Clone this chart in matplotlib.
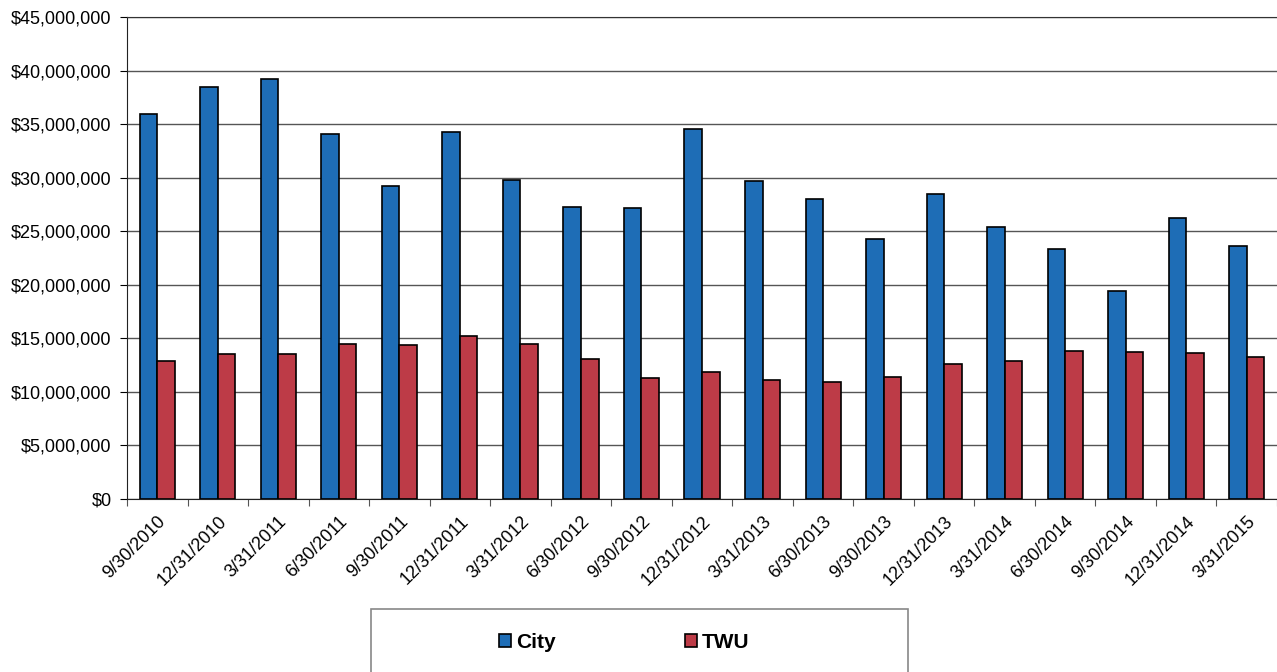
import numpy as np
import matplotlib.pyplot as plt
from matplotlib.ticker import FuncFormatter, FixedLocator
from matplotlib.patches import Rectangle

# dates du trimestre
quarters = ["9/30/2010", "12/31/2010", "3/31/2011", "6/30/2011", "9/30/2011",
            "12/31/2011", "3/31/2012", "6/30/2012", "9/30/2012", "12/31/2012",
            "3/31/2013", "6/30/2013", "9/30/2013", "12/31/2013", "3/31/2014",
            "6/30/2014", "9/30/2014", "12/31/2014", "3/31/2015"]

city = [35.9e6, 38.5e6, 39.2e6, 34.1e6, 29.2e6, 34.3e6, 29.8e6, 27.3e6, 27.2e6,
        34.5e6, 29.7e6, 28.0e6, 24.3e6, 28.5e6, 25.4e6, 23.3e6, 19.4e6, 26.2e6,
        23.6e6]
twu = [12.9e6, 13.5e6, 13.5e6, 14.5e6, 14.4e6, 15.2e6, 14.5e6, 13.1e6, 11.3e6,
       11.9e6, 11.1e6, 10.9e6, 11.4e6, 12.6e6, 12.9e6, 13.8e6, 13.7e6, 13.6e6,
       13.3e6]

plt.rcParams['font.family'] = ['Liberation Sans', 'DejaVu Sans']

fig = plt.figure(figsize=(12.77, 6.72), dpi=100)
ax = fig.add_axes([127 / 1277, 1 - 499 / 672, 1150 / 1277, 482 / 672])

x = np.arange(len(quarters))
w = 0.29
ax.bar(x - w / 2, city, w, color='#1E6DB6', edgecolor='black', linewidth=1.2,
       label='City', zorder=3)
ax.bar(x + w / 2, twu, w, color='#BD3B47', edgecolor='black', linewidth=1.2,
       label='TWU', zorder=3)

ax.set_xlim(-0.5, len(quarters) - 0.5)
ax.set_ylim(0, 45e6)
ax.set_yticks(np.arange(0, 45e6 + 1, 5e6))
ax.yaxis.set_major_formatter(FuncFormatter(lambda v, p: "${:,.0f}".format(v)))
ax.grid(axis='y', color='#555555', linewidth=1, zorder=0)

# ticks aux limites des categories, etiquettes au centre
ax.xaxis.set_major_locator(FixedLocator(np.arange(-0.5, len(quarters), 1.0)))
ax.xaxis.set_major_formatter(FuncFormatter(lambda v, p: ""))
ax.xaxis.set_minor_locator(FixedLocator(x))
ax.set_xticklabels(quarters, minor=True, rotation=45, ha='right',
                   rotation_mode='anchor', fontsize=13)
ax.tick_params(axis='x', which='minor', length=0, pad=10)
ax.tick_params(axis='x', which='major', length=5, color='#555555')
ax.tick_params(axis='y', length=5, labelsize=13, pad=6)

ax.spines['right'].set_visible(False)
ax.spines['top'].set_color('#333333')
ax.spines['left'].set_color('#222222')
ax.spines['bottom'].set_color('#222222')

# cadre de la legende
fig.patches.append(Rectangle((371 / 1277, -0.05), 537 / 1277, 0.05 + 63 / 672,
                             transform=fig.transFigure, fill=False,
                             edgecolor='#888888', linewidth=1.2))
fig.legend(loc='center', bbox_to_anchor=(624 / 1277, 1 - 642 / 672), ncol=2,
           frameon=False, columnspacing=6.2, handlelength=0.58, handleheight=0.58,
           handletextpad=0.25, prop={'weight': 'bold', 'size': 15})

fig.savefig('out.png', dpi=100)
